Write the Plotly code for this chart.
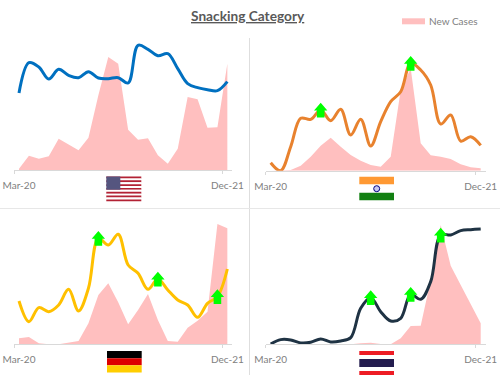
import plotly.graph_objects as go

W, H = 500, 375
months = list(range(22))
tick_vals = [0, 21]
tick_text = ["Mar-20", "Dec-21"]

us_cases = [5,44,35,42,95,77,60,98,225,340,320,122,92,96,45,20,65,220,213,128,129,320]
us_index = [232,323,310,274,303,285,278,296,277,275,278,262,375,363,344,350,305,260,248,242,239,266]
india_cases = [0,0,2,15,42,75,99,72,47,30,17,12,42,242,307,82,46,42,35,19,10,7]
india_index = [24,0,72,157,154,182,150,184,107,154,74,147,207,237,322,302,257,140,167,89,102,76]
germany_cases = [18,22,3,0,0,5,10,63,148,183,126,60,103,151,73,10,8,50,71,98,361,348]
germany_index = [130,68,110,98,118,165,100,168,318,298,330,238,213,165,196,163,133,118,81,123,143,226]
thailand_cases = [0,0,0,0,0,0,0,0,0,3,5,1,0,18,55,56,193,358,236,178,118,63]
thailand_index = [1,14,13,4,6,16,7,10,20,108,140,98,70,78,150,135,188,328,328,341,344,346]

us_arrows = []
india_arrows = [5, 14]
germany_arrows = [8, 14, 20]
thailand_arrows = [10, 14, 17]

AREA = "#FFBFBF"
ARROW_PATH = "M-3.8,-7.4 L3.8,-7.4 L3.8,-0.4 L6.7,-0.4 L0,7.3 L-6.7,-0.4 L-3.8,-0.4 Z"
panels = [
    dict(cases=us_cases, idx=us_index, arrows=us_arrows, color="#0070C0", x=(14.04, 232.3), y=(170.3, 30), top=421),
    dict(cases=india_cases, idx=india_index, arrows=india_arrows, color="#E8822E", x=(265.7, 485.7), y=(170.7, 30), top=422),
    dict(cases=germany_cases, idx=germany_index, arrows=germany_arrows, color="#FFC000", x=(14.04, 232.3), y=(344.3, 215), top=388),
    dict(cases=thailand_cases, idx=thailand_index, arrows=thailand_arrows, color="#1F3344", x=(265.7, 485.7), y=(344.3, 215), top=388),
]

fig = go.Figure()
annotations, shapes = [], []

def px(x): return x / W
def py(y): return 1 - y / H

for i, p in enumerate(panels, start=1):
    xa, ya = f"x{i}", f"y{i}"
    fig.add_trace(go.Scatter(x=months, y=p["cases"], mode="lines", fill="tozeroy", fillcolor=AREA,
                             line=dict(color=AREA, width=0), name="New Cases",
                             showlegend=False, xaxis=xa, yaxis=ya, hoverinfo="skip"))
    fig.add_trace(go.Scatter(x=months, y=p["idx"], mode="lines",
                             line=dict(color=p["color"], width=3, shape="spline", smoothing=1.0),
                             showlegend=False, xaxis=xa, yaxis=ya))
    suffix = "" if i == 1 else str(i)
    fig.update_layout({
        f"xaxis{suffix}": dict(domain=[px(p["x"][0]), px(p["x"][1])], range=[-0.5, 21.5], anchor=ya,
                               tickvals=tick_vals, ticktext=tick_text, ticks="outside", ticklen=6,
                               tickcolor="rgba(0,0,0,0)", showgrid=False, zeroline=False,
                               showline=True, linecolor="#D9D9D9", linewidth=1,
                               tickfont=dict(family="Lato", size=10, color="#808080"),
                               minor=dict(tickvals=[-0.5, 20.5], ticks="outside", ticklen=3,
                                          tickcolor="#D9D9D9", showgrid=False)),
        f"yaxis{suffix}": dict(domain=[py(p["y"][0]), py(p["y"][1])], range=[0, p["top"]], anchor=xa,
                               visible=False),
    })
    for k in p["arrows"]:
        shapes.append(dict(type="path", xref=xa, yref=ya, xsizemode="pixel", ysizemode="pixel",
                           xanchor=k, yanchor=p["idx"][k], path=ARROW_PATH,
                           fillcolor="#00FF00", line=dict(width=0), layer="above"))

def rect(x0, y0, x1, y1, color):
    shapes.append(dict(type="rect", xref="paper", yref="paper", x0=px(x0), x1=px(x1), y0=py(y0), y1=py(y1),
                       fillcolor=color, line=dict(width=0), layer="above"))

# panel dividers
rect(249, 38, 250, 375, "#DEDEDE")
rect(0, 208, 500, 209, "#E7E7E7")

# USA flag
stripe_h = (201.3 - 176.5) / 13
for s in range(13):
    rect(106.3, 176.5 + s * stripe_h, 141.3, 176.5 + (s + 1) * stripe_h, "#B22234" if s % 2 == 0 else "#FFFFFF")
rect(106.3, 176.5, 120.3, 189.7, "#55557F")

# India flag
rect(359.3, 176.7, 394, 184.3, "#FF9933")
rect(359.3, 192.7, 394, 200.3, "#128012")
shapes.append(dict(type="circle", xref="paper", yref="paper", x0=px(373.7), x1=px(379.7), y0=py(191.7), y1=py(185.7),
                   fillcolor="#C8C8F0", line=dict(color="#000080", width=1), layer="above"))

# Germany flag
rect(107, 351, 141.7, 358.2, "#000000")
rect(107, 358.2, 141.7, 365.3, "#DD0000")
rect(107, 365.3, 141.7, 372.4, "#FFCE00")

# Thailand flag
rect(359.3, 351, 394, 355, "#ED1C24")
rect(359.3, 359, 394, 367, "#241D4F")
rect(359.3, 371, 394, 375, "#ED1C24")

# Legend
rect(402, 18.3, 425, 24.3, AREA)
annotations.append(dict(x=px(428), y=py(21.3), xref="paper", yref="paper", showarrow=False,
                        xanchor="left", yanchor="middle", xshift=-1, text="New Cases",
                        font=dict(family="Lato", size=10, color="#808080")))

annotations.append(dict(x=px(247.5), y=py(15), xref="paper", yref="paper", showarrow=False,
                        xanchor="center", yanchor="middle",
                        text="<b><u>Snacking Category</u></b>",
                        font=dict(family="Lato", size=13.7, color="#595959")))

fig.update_layout(
    width=W, height=H, margin=dict(l=0, r=0, t=0, b=0, autoexpand=False), paper_bgcolor="white", plot_bgcolor="white",
    annotations=annotations, shapes=shapes, hovermode=False, showlegend=False,
)
fig.write_html("out.html", config={"displayModeBar": False},
               post_script="document.body.style.margin='0';")
